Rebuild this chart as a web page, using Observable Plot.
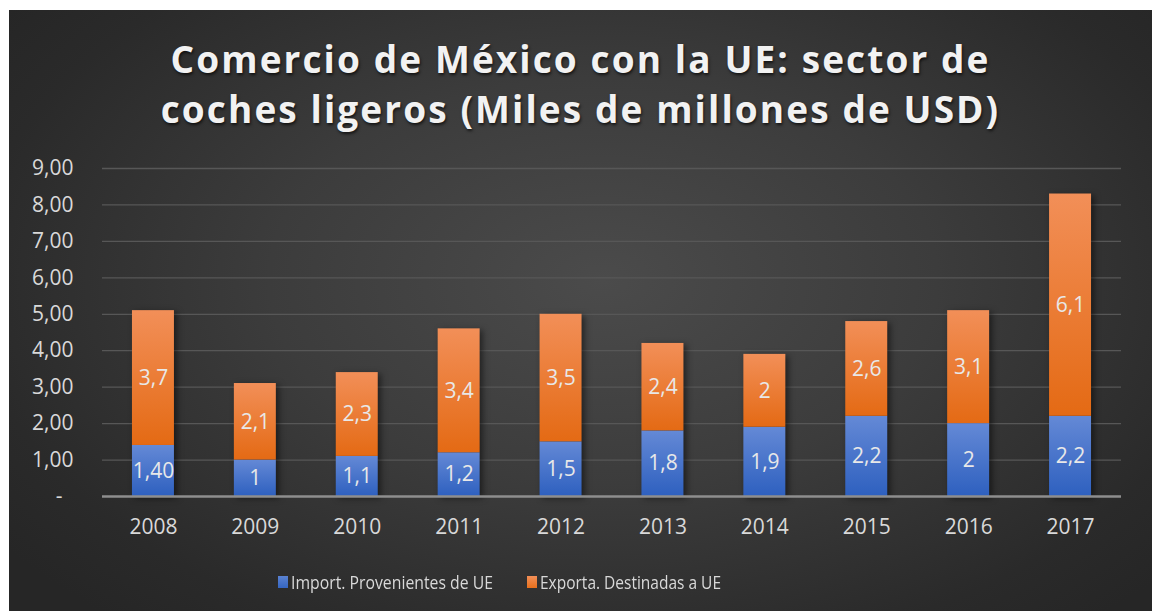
<!DOCTYPE html>
<html><head><meta charset="utf-8">
<script src="https://cdn.jsdelivr.net/npm/d3@7"></script>
<script src="https://cdn.jsdelivr.net/npm/@observablehq/plot@0.6"></script>
<style>
html,body{margin:0;padding:0;background:#fff;width:1152px;height:611px;overflow:hidden;}
#panel{position:absolute;left:9px;top:10px;width:1143px;height:601px;overflow:hidden;
  background:radial-gradient(ellipse 65% 75% at 52% 45%, #4b4b4b 0%, #3c3c3c 45%, #2a2a2a 85%, #262626 100%);
  font-family:"Open Sans",sans-serif;}
#title{position:absolute;left:0;top:24px;width:100%;text-align:center;color:#f2f2f2;font-weight:700;
  font-size:37px;line-height:50px;letter-spacing:2.1px;text-shadow:1px 2px 3px rgba(0,0,0,0.65);}
#chart{position:absolute;left:0;top:140px;}
#legend .item{position:absolute;top:559px;display:flex;align-items:center;color:#d9d9d9;font-size:18.5px;white-space:nowrap;}
#legend .sw{width:10px;height:12px;margin-right:3px;}
#legend .txt{display:inline-block;transform-origin:left center;}
g[aria-label="bar"]{filter:drop-shadow(3px 2px 3px rgba(0,0,0,0.5));}
</style>
</head><body>
<div id="panel">
  <div id="title">Comercio de México con la UE: sector de<br>coches ligeros (Miles de millones de USD)</div>
  <div id="chart"></div>
  <div id="legend"></div>
</div>
<script>
const years = ["2008","2009","2010","2011","2012","2013","2014","2015","2016","2017"];
const imports = [1.40, 1, 1.1, 1.2, 1.5, 1.8, 1.9, 2.2, 2, 2.2];
const exports = [3.7, 2.1, 2.3, 3.4, 3.5, 2.4, 2, 2.6, 3.1, 6.1];
const importLabels = ["1,40","1","1,1","1,2","1,5","1,8","1,9","2,2","2","2,2"];
const exportLabels = ["3,7","2,1","2,3","3,4","3,5","2,4","2","2,6","3,1","6,1"];
const seriesNames = ["Import. Provenientes de UE", "Exporta. Destinadas a UE"];
const yTicks = [0,1,2,3,4,5,6,7,8,9];

const rows = [];
years.forEach((y,i)=>rows.push({year:y, series:seriesNames[0], value:imports[i], label:importLabels[i], fill:"url(#gBlue)"}));
years.forEach((y,i)=>rows.push({year:y, series:seriesNames[1], value:exports[i], label:exportLabels[i], fill:"url(#gOrange)"}));

const fmtY = d => d === 0 ? "-\u00a0\u00a0" : d.toFixed(2).replace(".", ",");

const svg = Plot.plot({
  width: 1143,
  height: 400,
  marginLeft: 93,
  marginRight: 31,
  marginTop: 18,
  marginBottom: 54,
  style: {background: "transparent", fontFamily: "'Open Sans', sans-serif", fontSize: "21px", color: "#d9d9d9"},
  x: {domain: years, paddingInner: 0.588, paddingOuter: 0.294, round: false, label: null, tickSize: 0, tickPadding: 23},
  y: {domain: [0, 9], ticks: yTicks, tickFormat: fmtY, label: null, tickSize: 0, tickPadding: 29},
  color: {type: "identity"},
  marks: [
    Plot.gridY(yTicks.filter(d => d > 0), {stroke: "#575757", strokeOpacity: 1, strokeWidth: 1.3}),
    Plot.barY(rows, {x: "year", y: "value", fill: "fill"}),
    Plot.ruleY([0], {stroke: "#8e8e8e", strokeWidth: 2.5}),
    Plot.text(rows, Plot.stackY({x: "year", y: "value", text: "label", fill: "#e8e8e8", fontSize: 21}))
  ]
});

const defs = d3.select(svg).insert("defs", ":first-child");
function grad(id, top, bottom) {
  const g = defs.append("linearGradient").attr("id", id).attr("x1", 0).attr("y1", 0).attr("x2", 0).attr("y2", 1);
  g.append("stop").attr("offset", "0%").attr("stop-color", top);
  g.append("stop").attr("offset", "100%").attr("stop-color", bottom);
}
grad("gBlue", "#6489d6", "#2e60bf");
grad("gOrange", "#f28f58", "#e46a14");
document.getElementById("chart").appendChild(svg);

const legend = document.getElementById("legend");
const legendItems = [
  {name: seriesNames[0], sw: "linear-gradient(#5a82d2,#3566c2)", left: 269, width: 202},
  {name: seriesNames[1], sw: "linear-gradient(#f28f58,#e8701c)", left: 518, width: 181}
];
legendItems.forEach(it => {
  const d = document.createElement("div");
  d.className = "item";
  d.style.left = it.left + "px";
  const sw = document.createElement("span");
  sw.className = "sw";
  sw.style.background = it.sw;
  const t = document.createElement("span");
  t.className = "txt";
  t.textContent = it.name;
  d.appendChild(sw); d.appendChild(t);
  legend.appendChild(d);
  const w = t.getBoundingClientRect().width;
  t.style.transform = `scaleX(${it.width / w})`;
});
</script>
</body></html>
